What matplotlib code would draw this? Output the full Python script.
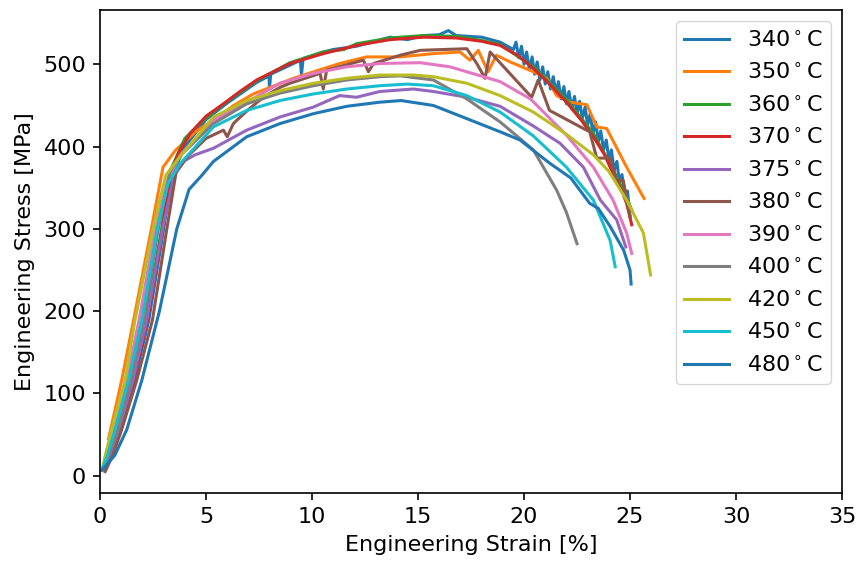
import matplotlib
matplotlib.use("Agg")
import matplotlib.pyplot as plt

# temperatures and strain / stress pairs
temps = [340, 350, 360, 370, 375, 380, 390, 400, 420, 450, 480]

strain_340 = [0.1, 0.5, 0.95, 1.62, 2.3, 3.0, 3.4, 4.0, 5.0, 6.0, 7.39, 7.97, 7.99, 8.05, 8.96,
              9.45, 9.5, 9.58, 10.53, 11.0, 12.1, 13.68, 14.5, 15.25, 16.0, 16.43, 16.8, 18.0,
              18.87, 19.5, 19.62, 19.75, 19.88, 20.0, 20.12, 20.25, 20.38, 20.5, 20.62, 20.75,
              20.88, 21.0, 21.12, 21.25, 21.38, 21.5, 21.62, 21.75, 21.88, 22.0, 22.12, 22.25,
              22.38, 22.5, 22.62, 22.75, 22.88, 23.0, 23.12, 23.25, 23.38, 23.5, 23.62, 23.75,
              23.88, 24.0, 24.12, 24.25, 24.38, 24.5, 24.62, 24.75, 24.88, 25.0]
stress_340 = [7, 25, 56, 116, 189, 300, 365, 400, 433, 453, 478, 486, 470, 488, 499,
              505, 487, 507, 515, 518, 522, 533, 530, 535, 536, 541, 535, 533,
              527, 518, 527, 508, 522, 500, 515, 494, 509, 488, 503, 481,
              497, 476, 491, 470, 485, 464, 479, 458, 473, 452, 467, 446,
              461, 440, 455, 434, 448, 426, 440, 416, 430, 406, 419, 396,
              408, 384, 396, 371, 382, 356, 366, 340, 346, 315]

strain_350 = [0.4, 1.02, 1.58, 2.42, 2.97, 3.54, 4.5, 5.5, 6.3, 7.23, 9.12, 11.3, 12.58, 14.15,
              15.72, 16.98, 17.45, 17.84, 18.3, 18.7, 19.34, 20.44, 21.07, 21.54, 22.17, 22.96,
              23.43, 23.9, 24.84, 25.66]
stress_350 = [45, 116, 189, 300, 375, 395, 418, 435, 450, 464, 483, 501, 509, 509,
              513, 515, 505, 517, 491, 511, 503, 491, 483, 462, 454, 451,
              424, 422, 375, 337]

strain_360 = [0.1, 0.45, 0.85, 1.5, 2.15, 2.9, 3.3, 4.0, 5.0, 6.0, 7.39, 8.96, 10.53, 11.5,
              12.1, 13.68, 15.25, 16.82, 18.0, 18.87, 20.44, 22.0, 23.27, 24.2, 24.84, 25.08]
stress_360 = [7, 25, 56, 116, 189, 300, 370, 410, 435, 455, 480, 502, 515, 518,
              525, 532, 535, 534, 529, 524, 497, 457, 416, 372, 338, 323]

strain_370 = [0.1, 0.5, 0.9, 1.57, 2.23, 2.95, 3.3, 3.7, 4.25, 5.0, 5.82, 6.6, 7.39, 8.96,
              10.53, 12.1, 13.68, 15.25, 16.82, 18.0, 18.87, 19.7, 20.44, 21.2, 22.0, 22.7,
              23.27, 23.8, 24.2, 24.6, 24.84, 25.08]
stress_370 = [7, 25, 56, 116, 189, 300, 365, 392, 416, 437, 452, 467, 481, 501,
              513, 523, 530, 533, 532, 528, 523, 511, 495, 476, 454, 432,
              412, 390, 367, 347, 331, 305]

strain_375 = [0.1, 0.5, 0.9, 1.55, 2.2, 2.95, 3.5, 4.0, 4.48, 5.35, 6.92, 8.49, 10.06, 11.3,
              12.1, 13.2, 14.78, 15.72, 17.3, 18.87, 20.44, 21.7, 22.8, 23.6, 24.37, 24.8]
stress_375 = [7, 25, 56, 116, 189, 300, 365, 383, 390, 398, 420, 436, 448, 462,
              460, 467, 470, 467, 460, 449, 425, 404, 375, 335, 311, 278]

strain_380 = [0.24, 0.6, 1.02, 1.73, 2.47, 3.15, 3.6, 4.2, 5.0, 5.82, 6.0, 6.29, 6.45, 7.0,
              7.7, 8.49, 8.96, 10.38, 10.53, 10.69, 12.42, 12.66, 12.9, 14.15, 15.1, 17.3,
              17.77, 18.16, 18.4, 20.36, 20.67, 21.2, 22.8, 23.1, 23.43, 24.06, 24.37, 24.68,
              25.0]
stress_380 = [5, 25, 56, 116, 189, 300, 371, 390, 410, 420, 412, 428, 432, 445,
              460, 472, 477, 489, 470, 493, 505, 491, 501, 511, 517, 519,
              501, 483, 515, 460, 481, 444, 422, 418, 386, 386, 359, 359,
              315]

strain_390 = [0.1, 0.3, 0.62, 1.25, 1.84, 2.6, 3.2, 3.8, 5.35, 6.92, 8.49, 10.06, 11.64, 13.2,
              15.1, 16.5, 18.87, 20.3, 22.0, 23.27, 24.2, 24.84, 25.08]
stress_390 = [7, 25, 56, 116, 189, 300, 360, 390, 432, 454, 477, 489, 497, 501,
              502, 497, 479, 458, 414, 375, 335, 295, 270]

strain_400 = [0.1, 0.4, 0.83, 1.45, 2.05, 2.75, 3.3, 3.9, 5.35, 6.92, 8.49, 10.06, 11.64, 13.2,
              14.15, 15.72, 17.3, 18.87, 20.44, 21.54, 22.0, 22.5]
stress_400 = [7, 25, 56, 116, 189, 300, 370, 392, 428, 452, 465, 474, 481, 485,
              486, 481, 458, 430, 396, 347, 320, 282]

strain_420 = [0.1, 0.25, 0.55, 1.18, 1.65, 2.5, 3.1, 3.77, 5.35, 6.92, 8.49, 10.06, 11.64, 13.2,
              14.78, 15.72, 17.3, 18.87, 20.44, 22.0, 23.27, 24.0, 24.84, 25.63, 25.97]
stress_420 = [7, 25, 56, 116, 189, 300, 365, 388, 436, 456, 468, 477, 483, 487,
              487, 485, 477, 462, 442, 415, 390, 370, 335, 295, 244]

strain_450 = [0.1, 0.35, 0.71, 1.34, 1.97, 2.7, 3.2, 3.77, 5.35, 6.92, 8.49, 10.06, 11.64, 13.2,
              14.5, 15.72, 17.3, 18.87, 20.44, 22.0, 23.27, 24.06, 24.3]
stress_450 = [7, 25, 56, 116, 189, 300, 355, 379, 424, 444, 456, 464, 470, 474,
              476, 474, 462, 442, 413, 375, 335, 286, 254]

strain_480 = [0.1, 0.7, 1.26, 1.97, 2.8, 3.62, 4.2, 4.8, 5.35, 6.92, 8.49, 10.06, 11.64, 13.2,
              14.2, 15.72, 17.3, 18.87, 19.81, 21.2, 22.2, 23.1, 23.5, 24.06, 24.7, 25.0, 25.05]
stress_480 = [7, 25, 56, 116, 200, 300, 348, 365, 382, 412, 428, 440, 449, 454,
              456, 450, 434, 418, 408, 380, 362, 331, 325, 303, 274, 250, 233]

strains = [strain_340, strain_350, strain_360, strain_370, strain_375, strain_380,
           strain_390, strain_400, strain_420, strain_450, strain_480]
stresses = [stress_340, stress_350, stress_360, stress_370, stress_375, stress_380,
            stress_390, stress_400, stress_420, stress_450, stress_480]

plt.rcParams["font.size"] = 16

fig = plt.figure(figsize=(8.58, 5.63), dpi=100)
ax = fig.add_axes([0.1166, 0.1243, 0.8648, 0.8579])

for t, x, y in zip(temps, strains, stresses):
    ax.plot(x, y, lw=2.2, label=str(t) + r"$^\circ$C")

ax.set_xlim(0, 35)
ax.set_ylim(-21, 566)
ax.set_xticks(range(0, 36, 5))
ax.set_xlabel("Engineering Strain [%]", labelpad=6)
ax.set_ylabel("Engineering Stress [MPa]", labelpad=6)
ax.tick_params(width=1.2, length=5, pad=5)
for s in ax.spines.values():
    s.set_linewidth(1.2)
ax.legend(loc="upper right", labelspacing=0.53)

fig.savefig("out.png", dpi=100)
